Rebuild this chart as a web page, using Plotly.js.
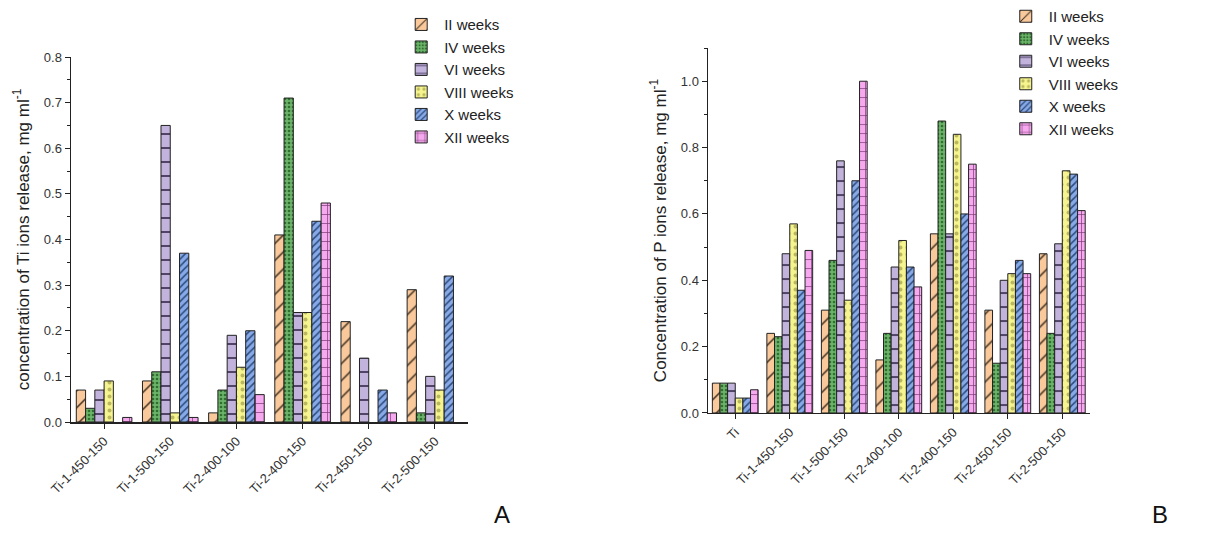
<!DOCTYPE html>
<html><head><meta charset="utf-8">
<script src="https://cdn.plot.ly/plotly-3.0.1.min.js"></script>
<style>html,body{margin:0;padding:0;background:#fff}#chart{width:1214px;height:546px}</style>
</head><body><div id="chart"></div>
<script>
// Panel A: Ti ions release
const catsA = ["Ti-1-450-150","Ti-1-500-150","Ti-2-400-100","Ti-2-400-150","Ti-2-450-150","Ti-2-500-150"];
const tiII   = [0.07, 0.09, 0.02, 0.41, 0.22, 0.29];
const tiIV   = [0.03, 0.11, 0.07, 0.71, null, 0.02];
const tiVI   = [0.07, 0.65, 0.19, 0.24, 0.14, 0.10];
const tiVIII = [0.09, 0.02, 0.12, 0.24, null, 0.07];
const tiX    = [null, 0.37, 0.20, 0.44, 0.07, 0.32];
const tiXII  = [0.01, 0.01, 0.06, 0.48, 0.02, null];

// Panel B: P ions release
const catsB = ["Ti","Ti-1-450-150","Ti-1-500-150","Ti-2-400-100","Ti-2-400-150","Ti-2-450-150","Ti-2-500-150"];
const pII   = [0.09, 0.24, 0.31, 0.16, 0.54, 0.31, 0.48];
const pIV   = [0.09, 0.23, 0.46, 0.24, 0.88, 0.15, 0.24];
const pVI   = [0.09, 0.48, 0.76, 0.44, 0.54, 0.40, 0.51];
const pVIII = [0.045, 0.57, 0.34, 0.52, 0.84, 0.42, 0.73];
const pX    = [0.045, 0.37, 0.70, 0.44, 0.60, 0.46, 0.72];
const pXII  = [0.07, 0.49, 1.00, 0.38, 0.75, 0.42, 0.61];

const seriesNames = ["II weeks","IV weeks","VI weeks","VIII weeks","X weeks","XII weeks"];

const styles = [
  {bg:"#f9c99c", fg:"#3a2a1a", shape:"/", size:12, sol:0.12},
  {bg:"#6cb46a", fg:"#2f6e2f", shape:".", size:4,  sol:0.35},
  {bg:"#c2b3dd", fg:"#3a3050", shape:"-", size:14, sol:0.12},
  {bg:"#f6f48e", fg:"#b9b860", shape:".", size:7,  sol:0.25},
  {bg:"#86a9e8", fg:"#2e4a7a", shape:"/", size:5,  sol:0.3},
  {bg:"#f6a9ef", fg:"#7a3a74", shape:"+", size:9,  sol:0.15}
];

const dataA = [tiII, tiIV, tiVI, tiVIII, tiX, tiXII];
const dataB = [pII, pIV, pVI, pVIII, pX, pXII];

const traces = [];
dataA.forEach((vals, i) => {
  const s = styles[i];
  traces.push({
    type:"bar", x:catsA, y:vals, name:seriesNames[i], xaxis:"x", yaxis:"y", legend:"legend",
    marker:{color:s.bg, line:{color:"#222", width:1},
      pattern:{shape:s.shape, fgcolor:s.fg, bgcolor:s.bg, size:s.size, solidity:s.sol, fillmode:"replace"}}
  });
});
dataB.forEach((vals, i) => {
  const s = styles[i];
  traces.push({
    type:"bar", x:catsB, y:vals, name:seriesNames[i], xaxis:"x2", yaxis:"y2", legend:"legend2",
    marker:{color:s.bg, line:{color:"#222", width:1},
      pattern:{shape:s.shape, fgcolor:s.fg, bgcolor:s.bg, size:s.size, solidity:s.sol, fillmode:"replace"}}
  });
});

const axisCommon = {
  showline:true, linecolor:"#222", linewidth:1.5, ticks:"outside", ticklen:5, tickcolor:"#222",
  showgrid:false, zeroline:false, tickfont:{family:"Liberation Sans, Arial", size:13, color:"#333"}
};

const layout = {
  width:1214, height:546, margin:{l:0,r:0,t:0,b:0},
  paper_bgcolor:"#fff", plot_bgcolor:"#fff",
  barmode:"group", bargap:0.16, bargroupgap:0,
  font:{family:"Liberation Sans, Arial", color:"#222"},
  xaxis: Object.assign({}, axisCommon, {domain:[0.0585,0.3855], anchor:"y", tickangle:-45,
    categoryorder:"array", categoryarray:catsA}),
  yaxis: Object.assign({}, axisCommon, {domain:[0.2271,0.8956], anchor:"x", range:[0,0.8],
    dtick:0.1, tickformat:".1f",
    minor:{ticks:"outside", ticklen:3, dtick:0.05, tickcolor:"#222"},
    title:{text:"concentration of Ti ions release, mg ml<sup>-1</sup>", font:{size:17, color:"#222"}, standoff:10}}),
  xaxis2: Object.assign({}, axisCommon, {domain:[0.5832,0.8975], anchor:"y2", tickangle:-45,
    categoryorder:"array", categoryarray:catsB}),
  yaxis2: Object.assign({}, axisCommon, {domain:[0.2436,0.912], anchor:"x2", range:[0,1.1],
    dtick:0.2, tickformat:".1f",
    minor:{ticks:"outside", ticklen:3, dtick:0.1, tickcolor:"#222"},
    title:{text:"Concentration of P ions release, mg ml<sup>-1</sup>", font:{size:17, color:"#222"}, standoff:10}}),
  legend:{x:0.328, y:0.985, xanchor:"left", yanchor:"top", bgcolor:"rgba(255,255,255,0)",
    font:{size:15, color:"#222"}, tracegroupgap:0, itemwidth:36},
  legend2:{x:0.826, y:1.0, xanchor:"left", yanchor:"top", bgcolor:"rgba(255,255,255,0)",
    font:{size:15, color:"#222"}, tracegroupgap:0, itemwidth:36},
  annotations:[
    {text:"A", x:502/1214, y:1-530/546, xref:"paper", yref:"paper", showarrow:false, font:{size:24, color:"#111"}},
    {text:"B", x:1170/1214, y:1-530/546, xref:"paper", yref:"paper", showarrow:false, font:{size:24, color:"#111"}}
  ],
  showlegend:true
};

Plotly.newPlot("chart", traces, layout, {displayModeBar:false, staticPlot:true});
</script></body></html>
